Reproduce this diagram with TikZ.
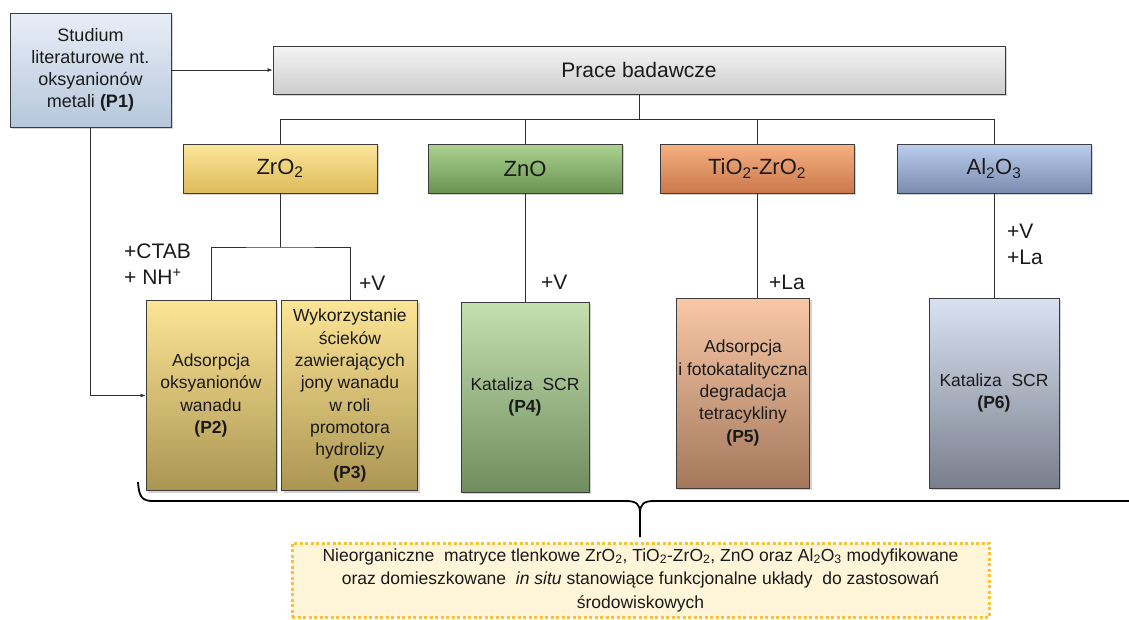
\documentclass[tikz,border=0pt]{standalone}
\usepackage{fontspec}
\setmainfont{Liberation Sans}
\usetikzlibrary{arrows.meta, positioning, calc, shadows}
\definecolor{pbtext}{HTML}{1A1A1A}
\definecolor{pbedge}{HTML}{3C3C3C}
\definecolor{pbline}{HTML}{2E2E2E}
\definecolor{pbsrctop}{HTML}{E8EEF7}
\definecolor{pbsrcbot}{HTML}{B6C7DC}
\definecolor{pbhubtop}{HTML}{F4F4F4}
\definecolor{pbhubbot}{HTML}{CDCDCD}
\definecolor{pbzrtop}{HTML}{FCE69A}
\definecolor{pbzrbot}{HTML}{DDBA5A}
\definecolor{pbzntop}{HTML}{ABD290}
\definecolor{pbznbot}{HTML}{6A9352}
\definecolor{pbtitop}{HTML}{F7B082}
\definecolor{pbtibot}{HTML}{C9784A}
\definecolor{pbaltop}{HTML}{BCCEEC}
\definecolor{pbalbot}{HTML}{7A8CAF}
\definecolor{pbpzrtop}{HTML}{FCE595}
\definecolor{pbpzrbot}{HTML}{AC9552}
\definecolor{pbpzntop}{HTML}{C4E0AF}
\definecolor{pbpznbot}{HTML}{708D5E}
\definecolor{pbptitop}{HTML}{F8C8A7}
\definecolor{pbptibot}{HTML}{A4785C}
\definecolor{pbpaltop}{HTML}{DAE2F1}
\definecolor{pbpalbot}{HTML}{787E8C}
\definecolor{pbnote}{HTML}{FFF5D8}
\definecolor{pbnoteedge}{HTML}{F4C23C}
\newcommand{\ix}[1]{\textsubscript{#1}}
\tikzset{
  box/.style={rectangle, draw=pbedge, line width=0.9pt, align=center, text=pbtext, inner sep=2pt,
              drop shadow={shadow xshift=2pt, shadow yshift=-2pt, opacity=0.35}},
  src/.style={box, top color=pbsrctop, bottom color=pbsrcbot, minimum width=161pt, minimum height=114pt,
              font=\fontsize{18}{22}\selectfont},
  hub/.style={box, top color=pbhubtop, bottom color=pbhubbot, minimum width=732pt, minimum height=48pt,
              font=\fontsize{21}{25}\selectfont},
  oxd/.style={box, minimum width=194pt, minimum height=49pt, font=\fontsize{22}{26}\selectfont},
  pub/.style={box, minimum height=190pt, font=\fontsize{17.5}{22.3}\selectfont},
  ln/.style={draw=pbline, line width=0.8pt},
  lnarr/.style={ln, -{Latex[length=5pt, width=4pt]}},
  lbl/.style={font=\fontsize{21}{26}\selectfont, text=pbtext, align=left, inner sep=0pt},
  note/.style={rectangle, fill=pbnote, draw=pbnoteedge, line width=3pt, dash pattern=on 3pt off 2.5pt,
               minimum width=697pt, minimum height=74pt, align=center, text=pbtext,
               font=\fontsize{17.5}{23.5}\selectfont},
}
\begin{document}
\begin{tikzpicture}[x=1pt, y=-1pt]
  \useasboundingbox (0,0) rectangle (1129,619);
  \node[src] (lit) at (90.5,70) {Studium\\literaturowe nt.\\oksyanionów\\metali \textbf{(P1)}};
  \node[hub] (prace) at (639,70) {Prace badawcze};
  \node[oxd, top color=pbzrtop, bottom color=pbzrbot] (zro) at (280,168.5) {ZrO\ix{2}};
  \node[oxd, top color=pbzntop, bottom color=pbznbot] (zno) at (525,168.5) {ZnO};
  \node[oxd, top color=pbtitop, bottom color=pbtibot] (tio) at (757,168.5) {TiO\ix{2}-ZrO\ix{2}};
  \node[oxd, top color=pbaltop, bottom color=pbalbot] (alo) at (994,168.5) {Al\ix{2}O\ix{3}};
  \node[pub, minimum width=130pt, top color=pbpzrtop, bottom color=pbpzrbot] (ads) at (211,395.5)
    {Adsorpcja\\oksyanionów\\wanadu\\\textbf{(P2)}};
  \node[pub, minimum width=136pt, top color=pbpzrtop, bottom color=pbpzrbot, right=5pt of ads] (hyd)
    {Wykorzystanie\\ścieków\\zawierających\\jony wanadu\\w roli\\promotora\\hydrolizy\\\textbf{(P3)}};
  \node[pub, minimum width=128pt, top color=pbpzntop, bottom color=pbpznbot] (scrzn) at (525,397)
    {Kataliza~~SCR\\\textbf{(P4)}};
  \node[pub, minimum width=124pt, top color=pbptitop, bottom color=pbptibot] (foto) at (743,393)
    {Adsorpcja\\i fotokatalityczna\\degradacja\\tetracykliny\\\textbf{(P5)}};
  \node[pub, minimum width=130pt, top color=pbpaltop, bottom color=pbpalbot] (scral) at (994,393)
    {Kataliza~~SCR\\\textbf{(P6)}};
  \node[lbl, anchor=north west] (ctab) at (124,244) {+CTAB\\+ NH\textsuperscript{+}};
  \node[lbl, anchor=west] (vzr) at (359,283) {+V};
  \node[lbl, anchor=west] (vzn) at (541,282) {+V};
  \node[lbl, anchor=west] (lati) at (769,282) {+La};
  \node[lbl, anchor=north west] (val) at (1007,224) {+V\\+La};
  \node[note] (summary) at (640.5,580)
    {Nieorganiczne~~matryce tlenkowe ZrO\ix{2}, TiO\ix{2}-ZrO\ix{2}, ZnO oraz Al\ix{2}O\ix{3} modyfikowane\\
     oraz domieszkowane~~\textit{in situ} stanowiące funkcjonalne układy~~do zastosowań\\
     środowiskowych};
  \coordinate (bus) at (0,119);
  \coordinate (fork) at (280,247);
  \draw[lnarr] (lit) -- (prace);
  \draw[lnarr] (lit.south) |- (ads.west);
  \draw[ln] (prace.south) -- (prace.south |- bus);
  \draw[ln] (zro.north) -- (zro.north |- bus) -- (alo.north |- bus) -- (alo.north);
  \draw[ln] (zno.north) -- (zno.north |- bus);
  \draw[ln] (tio.north) -- (tio.north |- bus);
  \draw[ln] (zro.south) -- (fork);
  \draw[ln] (ads.north) |- (fork) -| (hyd.north);
  \draw[ln] (zno.south) -- (scrzn.north);
  \draw[ln] (tio.south) -- (tio.south |- foto.north);
  \draw[ln] (alo.south) -- (scral.north);
  \draw[line width=1.8pt, black] (138,482) .. controls (139,497) and (142,501) .. (153,501)
    -- (626,501) .. controls (636,501) and (640,504) .. (640,513) -- (640,537);
  \draw[line width=1.8pt, black] (640,513) .. controls (640,504) and (644,501) .. (654,501) -- (1129,501);
\end{tikzpicture}
\end{document}
